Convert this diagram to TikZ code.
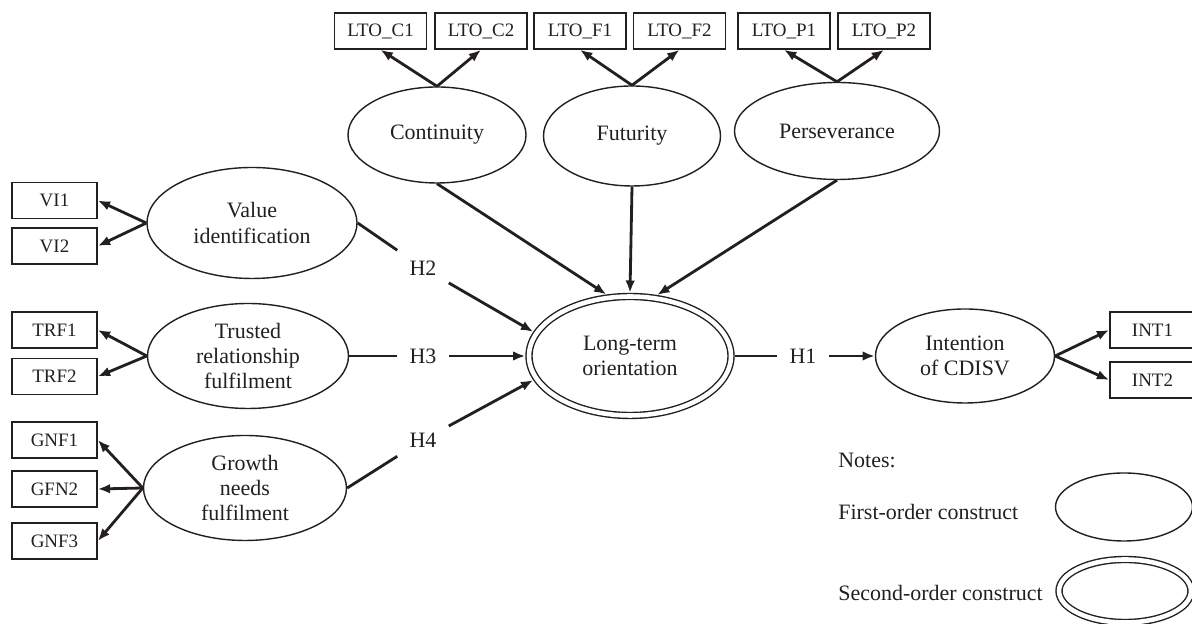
\documentclass[tikz,border=0pt]{standalone}
\usepackage{fontspec}
\setmainfont{Liberation Serif}
\usetikzlibrary{positioning, arrows.meta, shapes.geometric}
\definecolor{Ink}{HTML}{231F20}
\tikzset{
    item/.style={rectangle, draw=Ink, line width=0.9pt, minimum width=1.70cm, minimum height=0.72cm, inner sep=0pt, text=Ink, font=\fontsize{10.8}{12}\selectfont},
    wideitem/.style={item, minimum width=1.84cm},
    construct/.style={ellipse, draw=Ink, line width=0.8pt, inner sep=0pt, align=center, text=Ink, font=\fontsize{12.5}{14.5}\selectfont},
    secondorder/.style={construct, double=white, double distance=2.6pt, outer sep=2.1pt},
    hlabel/.style={inner sep=0.24cm, text=Ink, font=\fontsize{12.5}{14.5}\selectfont},
    note/.style={anchor=west, inner sep=0pt, text=Ink, font=\fontsize{12.5}{14.5}\selectfont},
    arrow/.style={-{Latex[length=7pt, width=5.5pt]}, line width=1.6pt, color=Ink},
    link/.style={line width=1.6pt, color=Ink},
}
\begin{document}
\begin{tikzpicture}
    \useasboundingbox (0,0) rectangle (23.84,12.48);

    % Costrutti
    \node[construct, minimum width=3.56cm, minimum height=1.92cm] (cont) at (8.74,9.78) {Continuity};
    \node[construct, minimum width=3.54cm, minimum height=2.00cm] (fut) at (12.64,9.76) {Futurity};
    \node[construct, minimum width=4.10cm, minimum height=1.94cm] (pers) at (16.74,9.86) {Perseverance};
    \node[construct, minimum width=4.20cm, minimum height=2.22cm] (val) at (5.04,8.02) {Value\\identification};
    \node[construct, minimum width=4.02cm, minimum height=2.10cm] (trf) at (4.96,5.36) {Trusted\\relationship\\fulfilment};
    \node[construct, minimum width=4.06cm, minimum height=2.10cm] (gnf) at (4.90,2.72) {Growth\\needs\\fulfilment};
    \node[secondorder, minimum width=4.04cm, minimum height=2.38cm] (lto) at (12.60,5.36) {Long-term\\orientation};
    \node[construct, minimum width=3.58cm, minimum height=1.88cm] (cdisv) at (19.30,5.36) {Intention\\of CDISV};

    % Indicatori
    \node[wideitem] (ltoc1) at (7.61,11.86) {LTO\_C1};
    \node[wideitem] (ltoc2) at (9.62,11.86) {LTO\_C2};
    \node[wideitem] (ltof1) at (11.60,11.86) {LTO\_F1};
    \node[wideitem] (ltof2) at (13.59,11.86) {LTO\_F2};
    \node[wideitem] (ltop1) at (15.68,11.86) {LTO\_P1};
    \node[wideitem] (ltop2) at (17.68,11.86) {LTO\_P2};
    \node[item] (vi1) at (1.09,8.47) {VI1};
    \node[item] (vi2) at (1.09,7.56) {VI2};
    \node[item] (trf1) at (1.09,5.88) {TRF1};
    \node[item] (trf2) at (1.09,4.95) {TRF2};
    \node[item] (gnf1) at (1.09,3.68) {GNF1};
    \node[item] (gfn2) at (1.09,2.70) {GFN2};
    \node[item] (gnf3) at (1.09,1.66) {GNF3};
    \node[item] (int1) at (23.05,5.88) {INT1};
    \node[item] (int2) at (23.05,4.88) {INT2};

    % Ipotesi
    \node[hlabel] (h1) at (16.06,5.36) {H1};
    \node[hlabel] (h2) at (8.46,7.12) {H2};
    \node[hlabel] (h3) at (8.46,5.36) {H3};
    \node[hlabel] (h4) at (8.46,3.68) {H4};

    % Frecce verso gli indicatori
    \draw[arrow] (cont.north) -- (ltoc1.south);
    \draw[arrow] (cont.north) -- (ltoc2.south);
    \draw[arrow] (fut.north) -- (ltof1.south);
    \draw[arrow] (fut.north) -- (ltof2.south);
    \draw[arrow] (pers.north) -- (ltop1.south);
    \draw[arrow] (pers.north) -- (ltop2.south);
    \draw[arrow] (val.west) -- (vi1.east);
    \draw[arrow] (val.west) -- (vi2.east);
    \draw[arrow] (trf.west) -- (trf1.east);
    \draw[arrow] (trf.west) -- (trf2.east);
    \draw[arrow] (gnf.west) -- (gnf1.east);
    \draw[arrow] (gnf.west) -- (gfn2.east);
    \draw[arrow] (gnf.west) -- (gnf3.east);
    \draw[arrow] (cdisv.east) -- (int1.west);
    \draw[arrow] (cdisv.east) -- (int2.west);

    % Percorsi strutturali
    \draw[arrow] (cont.south) -- (lto.111);
    \draw[arrow] (fut.south) -- (lto.north);
    \draw[arrow] (pers.south) -- (lto.66);
    \draw[link] (val.east) -- (h2);
    \draw[arrow] (h2) -- (lto.166);
    \draw[link] (trf.east) -- (h3);
    \draw[arrow] (h3) -- (lto);
    \draw[link] (gnf.east) -- (h4);
    \draw[arrow] (h4) -- (lto.194);
    \draw[link] (lto) -- (h1);
    \draw[arrow] (h1) -- (cdisv);

    % Legenda
    \node[note] (notes) at (16.76,3.28) {Notes:};
    \node[note] (first) at (16.76,2.24) {First-order construct};
    \node[note] (second) at (16.76,0.62) {Second-order construct};
    \node[construct, minimum width=2.74cm, minimum height=1.36cm] (firstkey) at (22.48,2.34) {};
    \node[secondorder, minimum width=2.64cm, minimum height=1.26cm] (secondkey) at (22.50,0.66) {};
\end{tikzpicture}
\end{document}
